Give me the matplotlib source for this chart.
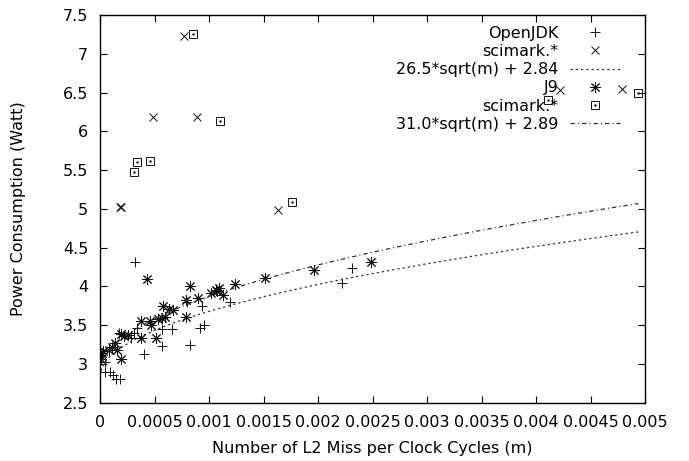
import numpy as np
import matplotlib
matplotlib.use("Agg")
import matplotlib.pyplot as plt
from matplotlib.lines import Line2D

plt.rcParams['font.family'] = ['DejaVu Sans']
FS = 11.5

# ---------------- data ----------------
openjdk_x = [0.00032, 0.00080, 0.00094, 0.00119, 0.00092, 0.00095, 0.00083, 0.00066,
             0.00057, 0.00057, 0.00034, 0.00040, 0.00028, 0.00031, 0.00017, 0.00005,
             0.00009, 0.00012, 0.00015, 0.00018, 0.00222, 0.00231, 0.00005]
openjdk_y = [4.31, 3.80, 3.75, 3.80, 3.46, 3.50, 3.25, 3.45,
             3.45, 3.23, 3.46, 3.13, 3.34, 3.40, 3.40, 2.90,
             2.89, 2.86, 2.81, 2.80, 4.05, 4.24, 3.03]

openjdk_sci_x = [0.00077, 0.00049, 0.00089, 0.00018, 0.00019, 0.00163, 0.00422, 0.00479]
openjdk_sci_y = [7.23, 6.19, 6.18, 5.02, 5.03, 4.98, 6.53, 6.54]

j9_x = [0.00043, 0.00083, 0.00079, 0.00090, 0.00102, 0.00106, 0.00109, 0.00113,
        0.00124, 0.00151, 0.00196, 0.00249, 0.00058, 0.00063, 0.00067, 0.00079,
        0.00038, 0.00046, 0.00047, 0.00053, 0.00057, 0.00060, 0.00038, 0.00051,
        0.00019, 0.00022, 0.00026, 0.00014, 0.00011, 0.00008, 0.00016, 0.00019,
        0.00002, 0.00001, 0.00003, 0.00107]
j9_y = [4.09, 4.00, 3.83, 3.85, 3.91, 3.95, 3.98, 3.89,
        4.03, 4.11, 4.21, 4.31, 3.75, 3.71, 3.69, 3.61,
        3.56, 3.56, 3.50, 3.58, 3.59, 3.61, 3.34, 3.34,
        3.38, 3.36, 3.37, 3.27, 3.22, 3.18, 3.18, 3.06,
        3.14, 3.07, 3.17, 3.94]

j9_sci_x = [0.00085, 0.00110, 0.00034, 0.00046, 0.00031, 0.00176, 0.00411, 0.00494]
j9_sci_y = [7.25, 6.13, 5.61, 5.62, 5.47, 5.09, 6.41, 6.50]

fit_openjdk = (26.5, 2.84)
fit_j9 = (31.0, 2.89)
fit_xmax = 0.00494

xtick_vals = [0, 0.0005, 0.001, 0.0015, 0.002, 0.0025, 0.003, 0.0035, 0.004, 0.0045, 0.005]
xtick_labels = ["0", "0.0005", "0.001", "0.0015", "0.002", "0.0025", "0.003",
                "0.0035", "0.004", "0.0045", "0.005"]
ytick_vals = [2.5, 3, 3.5, 4, 4.5, 5, 5.5, 6, 6.5, 7, 7.5]
ytick_labels = ["2.5", "3", "3.5", "4", "4.5", "5", "5.5", "6", "6.5", "7", "7.5"]

# ---------------- figure ----------------
fig = plt.figure(figsize=(6.89, 4.61), dpi=100)
W, H = 689, 461
L, R, T, B = 100, 645, 15, 402.7
ax = fig.add_axes([L / W, (H - B) / H, (R - L) / W, (B - T) / H])

mew = 0.7
mc = '#111111'
ax.plot(openjdk_x, openjdk_y, ls='none', marker='+', ms=7.5, mew=mew, color=mc,
        label='OpenJDK')
ax.plot(openjdk_sci_x, openjdk_sci_y, ls='none', marker='x', ms=6, mew=mew, color=mc,
        label='scimark.*')
fx = np.linspace(0, fit_xmax, 300)
ax.plot(fx, fit_openjdk[0] * np.sqrt(fx) + fit_openjdk[1], color='#333333', lw=0.9,
        dashes=(1.8, 2.4), label='26.5*sqrt(m) + 2.84')
ax.plot(j9_x, j9_y, ls='none', marker=(8, 2, 0), ms=8, mew=mew, color=mc,
        label='J9')
ax.plot(j9_sci_x, j9_sci_y, ls='none', marker='s', ms=6, mew=mew, mfc='none', color=mc,
        label='scimark.*')
ax.plot(j9_sci_x, j9_sci_y, ls='none', marker='.', ms=1.5, color=mc)
ax.plot(fx, fit_j9[0] * np.sqrt(fx) + fit_j9[1], color='#333333', lw=0.9,
        dashes=(3.5, 2.4, 0.9, 2.4), label='31.0*sqrt(m) + 2.89')

ax.set_xlim(0, 0.005)
ax.set_ylim(2.5, 7.5)
ax.set_xticks(xtick_vals, xtick_labels)
ax.set_yticks(ytick_vals, ytick_labels)
ax.tick_params(direction='in', length=5, width=0.8, top=True, right=True,
               labelsize=FS)
ax.tick_params(axis='x', pad=9)
ax.tick_params(axis='y', pad=8.5)
for s in ax.spines.values():
    s.set_linewidth(1.0)

ax.set_xlabel('Number of L2 Miss per Clock Cycles (m)', fontsize=FS)
ax.set_ylabel('Power Consumption (Watt)', fontsize=FS)
ax.xaxis.set_label_coords(0.5, -0.1)
ax.yaxis.set_label_coords(-0.135, 0.5)

# legend
sq_handle = (Line2D([], [], ls='none', marker='s', ms=6, mew=mew, mfc='none', color=mc),
             Line2D([], [], ls='none', marker='.', ms=1.5, color=mc))
handles, labels = ax.get_legend_handles_labels()
handles[4] = sq_handle
leg = ax.legend(handles, labels, loc='upper right', bbox_to_anchor=(0.954, 0.972),
                frameon=False, markerfirst=False, fontsize=FS, handlelength=3.1,
                handletextpad=0.75, labelspacing=0.2, borderpad=0, borderaxespad=0)
for t in leg.get_texts():
    t.set_ha('right')

fig.savefig('out.png', dpi=100)
